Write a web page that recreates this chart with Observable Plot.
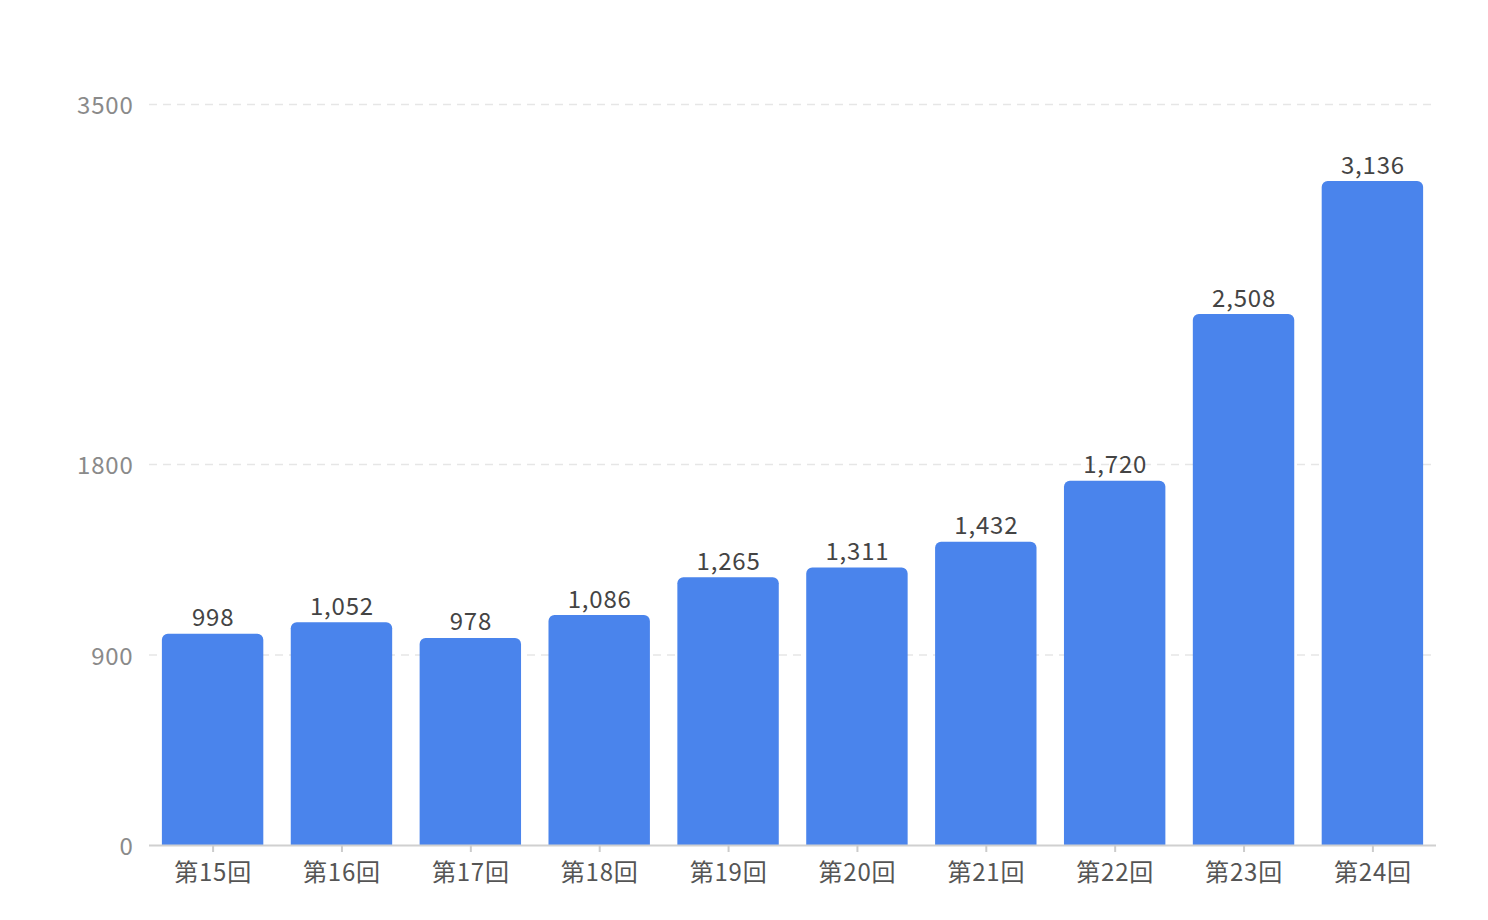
<!DOCTYPE html>
<html>
<head>
<meta charset="utf-8">
<script src="https://cdn.jsdelivr.net/npm/d3@7"></script>
<script src="https://cdn.jsdelivr.net/npm/@observablehq/plot@0.6"></script>
<style>
  html, body { margin: 0; padding: 0; background: #fff; }
  #chart { width: 1488px; height: 920px; }
  #chart text { letter-spacing: 0.8px; }
</style>
</head>
<body>
<div id="chart"></div>
<script>
const categories = ["第15回","第16回","第17回","第18回","第19回","第20回","第21回","第22回","第23回","第24回"];
const values = [998, 1052, 978, 1086, 1265, 1311, 1432, 1720, 2508, 3136];
const yTicks = [0, 900, 1800, 3500];
const gridTicks = [900, 1800, 3500];

const data = categories.map((c, i) => ({cat: c, value: values[i]}));
const fmt = d3.format(",");
const font = "'Noto Sans CJK JP', 'Noto Sans', sans-serif";

const chart = Plot.plot({
  width: 1488,
  height: 920,
  marginLeft: 149,
  marginRight: 52,
  marginTop: 104,
  marginBottom: 75,
  style: {fontFamily: font, fontSize: "24px", background: "#fff", overflow: "visible"},
  x: {domain: categories, paddingInner: 0.213, paddingOuter: 0.1, round: false, label: null},
  y: {domain: [0, 3500], label: null},
  marks: [
    Plot.ruleY(gridTicks, {stroke: "#e6e6e6", strokeWidth: 1.5, strokeDasharray: "8,6"}),
    Plot.barY(data, {x: "cat", y: "value", fill: "#4a84ec", ry1: 6}),
    Plot.ruleY([0], {stroke: "#d0d0d0", strokeWidth: 2}),
    Plot.axisY({ticks: yTicks, tickSize: 0, tickPadding: 16, dy: 2, tickFormat: d => String(d), fill: "#8a8a8a", fontSize: 24, label: null}),
    Plot.axisX({tickSize: 7, tickPadding: 11, stroke: "#cccccc", strokeWidth: 2, fill: "#555", fontSize: 24, label: null}),
    Plot.text(data, {x: "cat", y: "value", text: d => fmt(d.value), lineAnchor: "bottom", dy: -8, fill: "#444", fontSize: 24})
  ]
});
document.getElementById("chart").appendChild(chart);
</script>
</body>
</html>
